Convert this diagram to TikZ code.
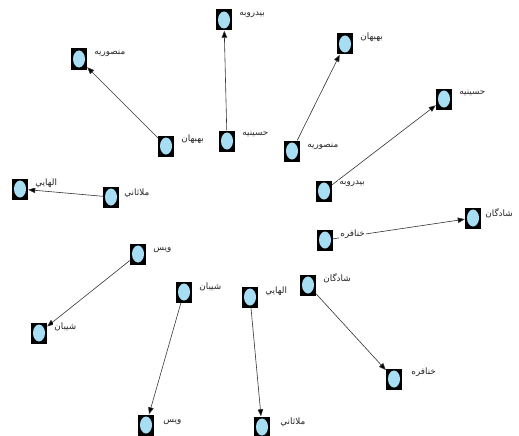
\documentclass[tikz,border=0pt]{standalone}
\usepackage{fontspec}
\usetikzlibrary{arrows.meta}
\newfontfamily\arabicfont[Script=Arabic]{DejaVu Sans}
\TeXXeTstate=1
\definecolor{nodeblue}{HTML}{A8DEF4}
\definecolor{edgegray}{HTML}{333333}
\tikzset{
  nd/.style={rectangle, fill=black, minimum width=16pt, minimum height=21pt, inner sep=0pt,
    path picture={\fill[nodeblue] (path picture bounding box.center) ellipse (6pt and 8.5pt);}},
  lab/.style={anchor=west, fill=white, inner sep=1pt, text=black!85, font=\arabicfont\fontsize{8.8}{9}\selectfont},
  edge/.style={draw=edgegray, line width=0.6pt, -{Triangle[length=7pt,width=5.5pt,fill=black]}}
}
\begin{document}
\begin{tikzpicture}[x=1pt,y=-1pt]
\useasboundingbox (0,0) rectangle (519,436);
\clip (0,0) rectangle (519,436);
% nodes
\node[nd] (n1) at (79,59) {};
\node[nd] (n2) at (166,146) {};
\node[nd] (n3) at (224,20) {};
\node[nd] (n4) at (227,141) {};
\node[nd] (n5) at (345,44) {};
\node[nd] (n6) at (292,151) {};
\node[nd] (n7) at (444,99) {};
\node[nd] (n8) at (324,191) {};
\node[nd] (n9) at (20,189) {};
\node[nd] (n10) at (111,197) {};
\node[nd] (n11) at (473,218) {};
\node[nd] (n12) at (325,240) {};
\node[nd] (n13) at (138,254) {};
\node[nd] (n14) at (39,333) {};
\node[nd] (n15) at (184,292) {};
\node[nd] (n16) at (146,425) {};
\node[nd] (n17) at (250,297) {};
\node[nd] (n18) at (262,427) {};
\node[nd] (n19) at (308,285) {};
\node[nd] (n20) at (394,379) {};
% edges
\draw[edge] (n2) -- (n1);
\draw[edge] (n4) -- (n3);
\draw[edge] (n6) -- (n5);
\draw[edge] (n8) -- (n7);
\draw[edge] (n10) -- (n9);
\draw[edge] (n12) -- (n11);
\draw[edge] (n13) -- (n14);
\draw[edge] (n15) -- (n16);
\draw[edge] (n17) -- (n18);
\draw[edge] (n19) -- (n20);
% labels
\node[lab] (l1) at ([xshift=6pt,yshift=6pt]n1.east) {\beginR منصوريه\endR};
\node[lab] (l2) at ([xshift=6pt,yshift=7pt]n2.east) {\beginR بهبهان\endR};
\node[lab] (l3) at ([xshift=6pt,yshift=5pt]n3.east) {\beginR بيدروبه\endR};
\node[lab] (l4) at ([xshift=6pt,yshift=7pt]n4.east) {\beginR حسينيه\endR};
\node[lab] (l5) at ([xshift=6pt,yshift=7pt]n5.east) {\beginR بهبهان\endR};
\node[lab] (l6) at ([xshift=6pt,yshift=5pt]n6.east) {\beginR منصوريه\endR};
\node[lab] (l7) at ([xshift=6pt,yshift=6pt]n7.east) {\beginR حسينيه\endR};
\node[lab] (l8) at ([xshift=6pt,yshift=7pt]n8.east) {\beginR بيدروبه\endR};
\node[lab] (l9) at ([xshift=6pt,yshift=6pt]n9.east) {\beginR الهايي\endR};
\node[lab] (l10) at ([xshift=4pt,yshift=4pt]n10.east) {\beginR ملاثاني\endR};
\node[lab] (l11) at ([xshift=3pt,yshift=5pt]n11.east) {\beginR شادگان\endR};
\node[lab] (l12) at ([xshift=6pt,yshift=6pt]n12.east) {\beginR خنافره\endR};
\node[lab] (l13) at ([xshift=6pt,yshift=4pt]n13.east) {\beginR ويس\endR};
\node[lab] (l14) at ([xshift=6pt,yshift=6pt]n14.east) {\beginR شيبان\endR};
\node[lab] (l15) at ([xshift=6pt,yshift=5pt]n15.east) {\beginR شيبان\endR};
\node[lab] (l16) at ([xshift=8pt,yshift=3pt]n16.east) {\beginR ويس\endR};
\node[lab] (l17) at ([xshift=6pt,yshift=6pt]n17.east) {\beginR الهايي\endR};
\node[lab] (l18) at ([xshift=9pt,yshift=5pt]n18.east) {\beginR ملاثاني\endR};
\node[lab] (l19) at ([xshift=6pt,yshift=7pt]n19.east) {\beginR شادگان\endR};
\node[lab] (l20) at ([xshift=8pt,yshift=7pt]n20.east) {\beginR خنافره\endR};
\end{tikzpicture}
\end{document}
